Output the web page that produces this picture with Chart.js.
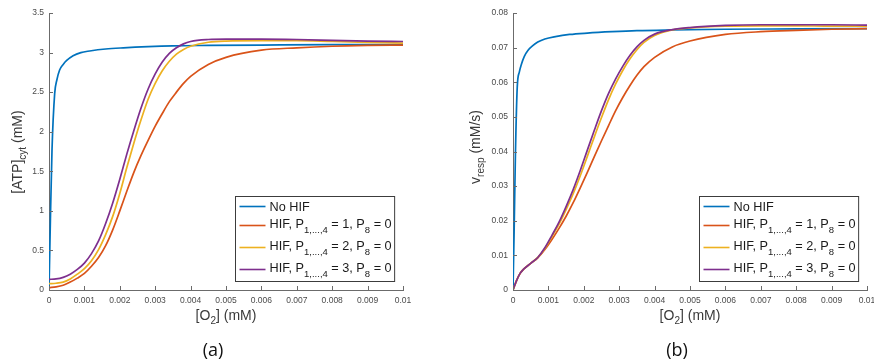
<!DOCTYPE html>
<html><head><meta charset="utf-8">
<script src="https://cdn.jsdelivr.net/npm/chart.js@4.4.1/dist/chart.umd.min.js"></script>
<style>
html,body{margin:0;padding:0;background:#fff;width:874px;height:361px;overflow:hidden;position:relative}
.wrap{position:absolute;top:0;height:361px}
#wa{left:0;width:440px}
#wb{left:440px;width:450px}
canvas{display:block}
</style></head><body>
<div class="wrap" id="wa"><canvas id="ca" width="440" height="361"></canvas></div>
<div class="wrap" id="wb"><canvas id="cb" width="450" height="361"></canvas></div>
<script>
// ---------- data ----------
const seriesLabels = ['No HIF', 'HIF, P_{1,...,4} = 1, P_{8} = 0', 'HIF, P_{1,...,4} = 2, P_{8} = 0', 'HIF, P_{1,...,4} = 3, P_{8} = 0'];
const seriesColors = ['#0072BD', '#D95319', '#EDB120', '#7E2F8E'];
const xTickLabels = ['0','0.001','0.002','0.003','0.004','0.005','0.006','0.007','0.008','0.009','0.01'];
const atpTickLabels = ['0','0.5','1','1.5','2','2.5','3','3.5'];
const vTickLabels = ['0','0.01','0.02','0.03','0.04','0.05','0.06','0.07','0.08'];
const xTitle = '[O_{2}] (mM)';
const atpTitle = '[ATP]_{cyt} (mM)';
const vTitle = 'v_{resp} (mM/s)';
const captions = ['(a)', '(b)'];

// panel (a): [ATP]cyt
const atpNoHifX = [0,0.00004,0.000085,0.00016,0.00022,0.0003,0.0004,0.0005,0.00068,0.0009,0.00115,0.0016,0.0021,0.0028,0.0035,0.0045,0.006,0.008,0.01];
const atpNoHifY = [0,0.9,1.77,2.48,2.65,2.78,2.85,2.9,2.96,3.0,3.02,3.045,3.06,3.075,3.085,3.09,3.095,3.1,3.1];
const atpHifX = [0,0.0002,0.0004,0.0006,0.0008,0.001,0.0012,0.0014,0.0016,0.0018,0.002,0.0022,0.0024,0.0026,0.0028,0.003,0.0032,0.0034,0.0036,0.0038,0.004,0.0045,0.005,0.006,0.007,0.008,0.009,0.01];
const atpHif1 = [0.03,0.04,0.06,0.1,0.15,0.21,0.3,0.41,0.56,0.76,1.0,1.25,1.49,1.7,1.89,2.07,2.23,2.38,2.5,2.61,2.7,2.85,2.94,3.03,3.06,3.08,3.09,3.095];
const atpHif2 = [0.08,0.085,0.1,0.14,0.2,0.27,0.37,0.51,0.7,0.93,1.22,1.55,1.86,2.15,2.41,2.61,2.77,2.89,2.98,3.04,3.08,3.13,3.145,3.15,3.15,3.14,3.13,3.12];
const atpHif3 = [0.135,0.14,0.16,0.2,0.26,0.34,0.46,0.62,0.84,1.1,1.4,1.72,2.02,2.3,2.54,2.73,2.88,2.99,3.06,3.11,3.14,3.165,3.17,3.17,3.165,3.155,3.145,3.14];

// panel (b): v_resp
const vNoHifX = [0,0.00003,0.00007,0.00012,0.00018,0.00024,0.00032,0.00042,0.00055,0.0007,0.0009,0.0012,0.0016,0.0021,0.0028,0.0035,0.0045,0.006,0.008,0.01];
const vNoHifY = [0,0.016,0.04,0.0586,0.063,0.0653,0.0675,0.0692,0.0705,0.0716,0.0725,0.0732,0.0738,0.0742,0.0746,0.0749,0.0751,0.0753,0.0754,0.0755];
const vHifX = [0,0.0001,0.0002,0.0003,0.0005,0.0007,0.0009,0.0011,0.0013,0.0015,0.0017,0.0019,0.0021,0.0023,0.0025,0.0027,0.0029,0.0031,0.0033,0.0035,0.0037,0.004,0.0045,0.005,0.006,0.007,0.008,0.009,0.01];
const vHif1 = [0,0.0027,0.0048,0.006,0.0077,0.0093,0.0117,0.0146,0.0178,0.0213,0.0252,0.0295,0.034,0.0386,0.0431,0.0475,0.0518,0.0556,0.059,0.062,0.0645,0.0672,0.0702,0.0719,0.0738,0.0746,0.075,0.0753,0.0755];
const vHif2 = [0,0.0027,0.0048,0.006,0.0077,0.0094,0.012,0.0154,0.019,0.0232,0.0278,0.033,0.0386,0.0443,0.0498,0.055,0.0595,0.0634,0.0667,0.0694,0.0715,0.0735,0.0751,0.0757,0.0762,0.0763,0.0763,0.0762,0.0762];
const vHif3 = [0,0.0027,0.0048,0.006,0.0077,0.0094,0.0122,0.0158,0.0196,0.0241,0.029,0.0345,0.0404,0.0462,0.0518,0.0568,0.061,0.0646,0.0677,0.0702,0.0721,0.0739,0.0752,0.0758,0.0764,0.0766,0.0766,0.0766,0.0765];

// ---------- helpers ----------
const FONT = '"Liberation Sans", Arial, Helvetica, sans-serif';
const AXIS_COLOR = '#6b6b6b';
const TICK_COLOR = '#4a4a4a';
const TITLE_COLOR = '#3a3a3a';

function zip(xs, ys){ return xs.map((x,i)=>({x:x, y:ys[i]})); }
function parseRich(s){
  const out=[]; const re=/_\{([^}]*)\}/g; let last=0, m;
  while((m=re.exec(s))){ if(m.index>last) out.push({t:s.slice(last,m.index),sub:false}); out.push({t:m[1],sub:true}); last=re.lastIndex; }
  if(last<s.length) out.push({t:s.slice(last),sub:false});
  return out;
}
function richWidth(ctx, segs, size, subSize){
  let w=0; for(const g of segs){ ctx.font=(g.sub?subSize:size)+'px '+FONT; w+=ctx.measureText(g.t).width; } return w;
}
function drawRich(ctx, s, x, y, size, subSize, subDy, color, align){
  const segs=parseRich(s); const w=richWidth(ctx,segs,size,subSize);
  let cx = align==='center' ? x-w/2 : x;
  ctx.fillStyle=color; ctx.textAlign='left'; ctx.textBaseline='alphabetic';
  for(const g of segs){ ctx.font=(g.sub?subSize:size)+'px '+FONT; ctx.fillText(g.t, cx, y+(g.sub?subDy:0)); cx+=ctx.measureText(g.t).width; }
  return w;
}

const decorPlugin = {
  id:'decor',
  afterDraw(chart, args, o){
    const ctx=chart.ctx, ca=chart.chartArea, xs=chart.scales.x, ys=chart.scales.y;
    ctx.save();
    // inward tick marks
    ctx.strokeStyle=AXIS_COLOR; ctx.lineWidth=1; ctx.beginPath();
    xs.ticks.forEach(t=>{ const p=Math.round(xs.getPixelForValue(t.value))+0.5; ctx.moveTo(p, ca.bottom); ctx.lineTo(p, ca.bottom-4); });
    ys.ticks.forEach(t=>{ const p=Math.round(ys.getPixelForValue(t.value))+0.5; ctx.moveTo(ca.left, p); ctx.lineTo(ca.left+4, p); });
    ctx.stroke();
    const cx=(ca.left+ca.right)/2;
    // x title
    drawRich(ctx, o.xTitle, cx, 320, 14, 10, 4, TITLE_COLOR, 'center');
    // y title (rotated)
    ctx.save(); ctx.translate(o.yTitleX, o.yTitleY); ctx.rotate(-Math.PI/2);
    drawRich(ctx, o.yTitle, 0, 0, 14, 10, 4, TITLE_COLOR, 'center');
    ctx.restore();
    // caption
    ctx.font='18px "Open Sans", sans-serif'; ctx.fillStyle='#111'; ctx.textAlign='center'; ctx.textBaseline='alphabetic';
    ctx.fillText(o.caption, cx-13, 356);
    // legend
    const items=chart.data.datasets.map(d=>({label:d.label, color:d.borderColor}));
    const LF=12.7, LS=9.5;
    let tw=0; items.forEach(it=>{ tw=Math.max(tw, richWidth(ctx, parseRich(it.label), LF, LS)); });
    const bw=4+26+4+tw+3, bh=85;
    const bx=Math.round(ca.right-9-bw)+0.5, by=Math.round(ca.bottom-9-bh)+0.5;
    ctx.fillStyle='#fff'; ctx.fillRect(bx,by,bw,bh);
    ctx.strokeStyle='#3c3c3c'; ctx.lineWidth=1; ctx.strokeRect(bx,by,bw,bh);
    const offs=[10,29,51,73];
    items.forEach((it,i)=>{
      const ly=by+offs[i]; const hasSub=/_\{/.test(it.label);
      ctx.strokeStyle=it.color; ctx.lineWidth=1.6; ctx.beginPath(); ctx.moveTo(bx+4,ly); ctx.lineTo(bx+30,ly); ctx.stroke();
      drawRich(ctx, it.label, bx+34, ly+(hasSub?2.9:4.2), LF, LS, 5, '#1a1a1a', 'left');
    });
    ctx.restore();
  }
};

function makeChart(id, W, area, series, yMax, yLabels, decor){
  const xVals = xTickLabels.map(Number), yVals = yLabels.map(Number);
  const datasets = series.map((s,i)=>({
    label: seriesLabels[i], data: zip(s[0], s[1]),
    borderColor: seriesColors[i], backgroundColor: seriesColors[i],
    borderWidth: 1.7, pointRadius: 0, fill: false,
    cubicInterpolationMode: 'monotone', order: series.length - i
  }));
  return new Chart(document.getElementById(id), {
    type: 'line',
    data: { datasets },
    options: {
      responsive: false, animation: false, devicePixelRatio: 1,
      layout: { padding: { left: 0, top: area.top, right: W - area.right, bottom: 0 } },
      plugins: { legend: { display: false }, tooltip: { enabled: false }, decor: decor },
      scales: {
        x: {
          type: 'linear', min: 0, max: 0.01,
          afterFit: sc => { sc.height = 361 - area.bottom; },
          afterBuildTicks: sc => { sc.ticks = xVals.map(v=>({value:v})); },
          grid: { display: false, drawTicks: false },
          border: { display: true, color: AXIS_COLOR, width: 1 },
          ticks: { autoSkip: false, maxRotation: 0, padding: 6, color: TICK_COLOR, font: { family: FONT, size: 8.5 },
                   callback: (v, i) => xTickLabels[i] }
        },
        y: {
          type: 'linear', min: 0, max: yMax,
          afterFit: sc => { sc.width = area.left; },
          afterBuildTicks: sc => { sc.ticks = yVals.map(v=>({value:v})); },
          grid: { display: false, drawTicks: false },
          border: { display: true, color: AXIS_COLOR, width: 1 },
          ticks: { autoSkip: false, padding: 5, color: TICK_COLOR, font: { family: FONT, size: 8.5 },
                   callback: (v, i) => yLabels[i] }
        }
      }
    },
    plugins: [decorPlugin]
  });
}

makeChart('ca', 440, {left:49, top:13, right:403, bottom:290},
  [[atpNoHifX, atpNoHifY], [atpHifX, atpHif1], [atpHifX, atpHif2], [atpHifX, atpHif3]],
  3.5, atpTickLabels, { xTitle: xTitle, yTitle: atpTitle, yTitleX: 22, yTitleY: 152, caption: captions[0] });

makeChart('cb', 450, {left:73, top:13, right:427, bottom:290},
  [[vNoHifX, vNoHifY], [vHifX, vHif1], [vHifX, vHif2], [vHifX, vHif3]],
  0.08, vTickLabels, { xTitle: xTitle, yTitle: vTitle, yTitleX: 39.5, yTitleY: 147, caption: captions[1] });
</script>
</body></html>
